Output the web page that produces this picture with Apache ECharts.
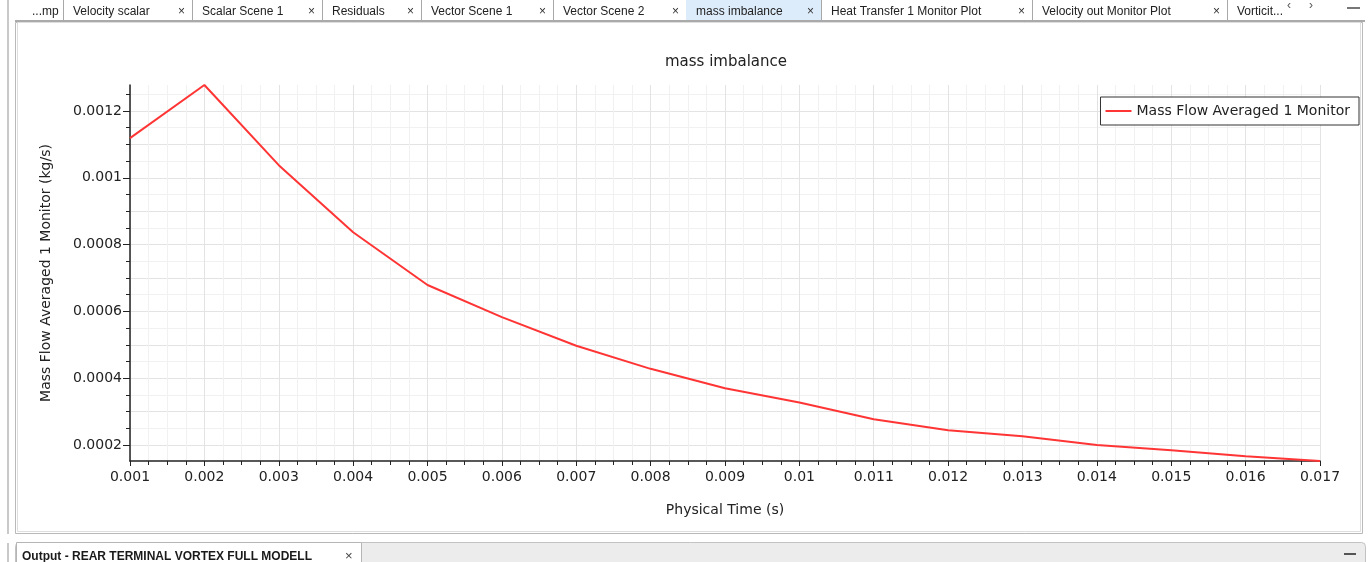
<!DOCTYPE html>
<html>
<head>
<meta charset="utf-8">
<script src="https://cdn.jsdelivr.net/npm/echarts@6/dist/echarts.min.js"></script>
<style>
html, body { margin: 0; padding: 0; background: #fff; }
#main { width: 1368px; height: 562px; }
</style>
</head>
<body>
<div id="main"></div>
<script>
// physical time (s) and monitor values (kg/s)
var times = [0.001, 0.002, 0.003, 0.004, 0.005, 0.006, 0.007, 0.008, 0.009,
    0.010, 0.011, 0.012, 0.013, 0.014, 0.015, 0.016, 0.017];
var massImbalance = [0.001119, 0.001278, 0.001038, 0.000837, 0.000679, 0.000583,
    0.000497, 0.000428, 0.000370, 0.000327, 0.000277, 0.000244, 0.000226,
    0.000200, 0.000184, 0.000166, 0.000152];

// y tick values: labelled ones, the in-between 1e-4 ones and the fine 5e-5 ones
var yLabelTicks = [0.0002, 0.0004, 0.0006, 0.0008, 0.001, 0.0012];
var yMidTicks = [0.0003, 0.0005, 0.0007, 0.0009, 0.0011];
var yFineTicks = [0.00025, 0.00035, 0.00045, 0.00055, 0.00065, 0.00075,
    0.00085, 0.00095, 0.00105, 0.00115, 0.00125];

var tabs = ['...mp', 'Velocity scalar', 'Scalar Scene 1', 'Residuals', 'Vector Scene 1',
    'Vector Scene 2', 'mass imbalance', 'Heat Transfer 1 Monitor Plot',
    'Velocity out Monitor Plot', 'Vorticit...'];
var tabEdges = [25, 63, 192, 322, 421, 553, 686, 821, 1032, 1227, 1282];
var activeTab = 6;

var seriesName = 'Mass Flow Averaged 1 Monitor';
var chartFont = 'DejaVu Sans';
var uiFont = 'Liberation Sans';

var yMin = Math.min.apply(null, massImbalance);
var yMax = Math.max.apply(null, massImbalance);

var lineData = times.map(function (t, i) { return [t, massImbalance[i]]; });

// window chrome round the plot
var chrome = [];
chrome.push({ type: 'rect', shape: { x: 7, y: 0, width: 2, height: 534 }, style: { fill: '#c9c9c9' }, silent: true });
chrome.push({ type: 'rect', shape: { x: 7, y: 543, width: 2, height: 19 }, style: { fill: '#c9c9c9' }, silent: true });
for (var i = 0; i < tabs.length; i++) {
    var x0 = tabEdges[i], x1 = tabEdges[i + 1];
    if (i === activeTab) {
        chrome.push({ type: 'rect', shape: { x: x0, y: 0, width: x1 - x0, height: 20 }, style: { fill: '#ddecfb' }, silent: true });
    }
    chrome.push({ type: 'text', x: x0 + (i === 0 ? 7 : 10), y: 18,
        style: { text: tabs[i], font: '12px ' + uiFont, fill: '#222', verticalAlign: 'bottom' }, silent: true });
    if (i > 0 && i < tabs.length - 1) {
        chrome.push({ type: 'text', x: x1 - 14, y: 18,
            style: { text: '\u00d7', font: '12px ' + uiFont, fill: '#333', verticalAlign: 'bottom' }, silent: true });
    }
    if (i < tabs.length - 1) {
        chrome.push({ type: 'line', shape: { x1: x1 + 0.5, y1: 0, x2: x1 + 0.5, y2: 20 }, style: { stroke: '#a8a8a8', lineWidth: 1 }, silent: true });
    }
}
chrome.push({ type: 'text', x: 1287, y: 12, style: { text: '\u2039', font: '12px ' + uiFont, fill: '#555', verticalAlign: 'bottom' }, silent: true });
chrome.push({ type: 'text', x: 1309, y: 12, style: { text: '\u203a', font: '12px ' + uiFont, fill: '#555', verticalAlign: 'bottom' }, silent: true });
chrome.push({ type: 'rect', shape: { x: 1347, y: 7, width: 13, height: 2 }, style: { fill: '#777' }, silent: true });
// tab strip underline and panel border
chrome.push({ type: 'rect', shape: { x: 15, y: 20, width: 1350, height: 2 }, style: { fill: '#aaaaaa' }, silent: true });
chrome.push({ type: 'rect', shape: { x: 15.5, y: 22.5, width: 1347, height: 511 }, style: { fill: 'none', stroke: '#b9b9b9', lineWidth: 1 }, silent: true });
chrome.push({ type: 'rect', shape: { x: 17.5, y: 22.5, width: 1343, height: 509 }, style: { fill: 'none', stroke: '#dedede', lineWidth: 1 }, silent: true });
// bottom output bar
chrome.push({ type: 'rect', shape: { x: 15.5, y: 542.5, width: 1350, height: 22, r: [4, 4, 0, 0] }, style: { fill: '#ececec', stroke: '#c2c2c2', lineWidth: 1 }, silent: true });
chrome.push({ type: 'rect', shape: { x: 16.5, y: 542.5, width: 345, height: 22 }, style: { fill: '#fff', stroke: '#b5b5b5', lineWidth: 1 }, silent: true });
chrome.push({ type: 'text', x: 22, y: 563, style: { text: 'Output - REAR TERMINAL VORTEX FULL MODELL', font: 'bold 12px ' + uiFont, fill: '#1a1a1a', verticalAlign: 'bottom' }, silent: true });
chrome.push({ type: 'text', x: 345, y: 563, style: { text: '\u00d7', font: '13px ' + uiFont, fill: '#444', verticalAlign: 'bottom' }, silent: true });
chrome.push({ type: 'rect', shape: { x: 1344, y: 553, width: 12, height: 2 }, style: { fill: '#555' }, silent: true });

function subAxis(values, lineColor) {
    return {
        type: 'value', position: 'left', min: yMin, max: yMax,
        axisLine: { show: false },
        axisLabel: { show: false },
        axisTick: { show: true, length: 4, customValues: values, lineStyle: { color: '#222' } },
        splitLine: { show: true, lineStyle: { color: lineColor, width: 1 } }
    };
}

var myChart = echarts.init(document.getElementById('main'));
var option = {
    animation: false,
    backgroundColor: '#fff',
    textStyle: { fontFamily: chartFont },
    title: {
        text: 'mass imbalance',
        left: 726,
        textAlign: 'center',
        top: 55,
        padding: 0,
        textStyle: { fontFamily: chartFont, fontSize: 15, fontWeight: 'normal', color: '#222' }
    },
    legend: {
        data: [seriesName],
        right: 9,
        top: 97,
        icon: 'rect',
        itemWidth: 26,
        itemHeight: 2,
        padding: [7, 9, 7, 5],
        backgroundColor: '#fff',
        borderColor: '#333',
        borderWidth: 1,
        borderRadius: 0,
        selectedMode: false,
        textStyle: { fontFamily: chartFont, fontSize: 14, color: '#222' }
    },
    grid: { left: 130, right: 48, top: 85, bottom: 101, containLabel: false },
    xAxis: {
        type: 'value',
        min: 0.001,
        max: 0.017,
        interval: 0.001,
        name: 'Physical Time (s)',
        nameLocation: 'middle',
        nameGap: 42,
        nameTextStyle: { fontFamily: chartFont, fontSize: 14, color: '#222' },
        axisLine: { lineStyle: { color: '#222', width: 1.5 } },
        axisTick: { length: 5, lineStyle: { color: '#222' } },
        minorTick: { show: true, splitNumber: 4, length: 4, lineStyle: { color: '#222' } },
        axisLabel: {
            margin: 9, fontFamily: chartFont, fontSize: 14, color: '#222',
            formatter: function (v) { return String(+v.toFixed(4)); }
        },
        splitLine: { show: true, lineStyle: { color: '#e3e3e3' } },
        minorSplitLine: { show: true, lineStyle: { color: '#f1f1f1' } }
    },
    yAxis: [
        {
            type: 'value',
            position: 'left',
            min: yMin,
            max: yMax,
            name: 'Mass Flow Averaged 1 Monitor (kg/s)',
            nameLocation: 'middle',
            nameGap: 77,
            nameTextStyle: { fontFamily: chartFont, fontSize: 14, color: '#222' },
            axisLine: { show: true, lineStyle: { color: '#222', width: 1.5 } },
            axisTick: { show: true, length: 7, customValues: yLabelTicks, lineStyle: { color: '#222' } },
            axisLabel: {
                margin: 8, fontFamily: chartFont, fontSize: 14, color: '#222',
                customValues: yLabelTicks,
                formatter: function (v) { return String(+v.toFixed(5)); }
            },
            splitLine: { show: true, lineStyle: { color: '#e3e3e3' } }
        },
        subAxis(yMidTicks, '#e3e3e3'),
        subAxis(yFineTicks, '#f1f1f1')
    ],
    graphic: chrome,
    series: [
        {
            name: seriesName,
            type: 'line',
            yAxisIndex: 0,
            data: lineData,
            showSymbol: false,
            symbol: 'none',
            lineStyle: { color: '#ff3535', width: 2 },
            itemStyle: { color: '#ff3535' },
            z: 5
        }
    ]
};
myChart.setOption(option);
</script>
</body>
</html>
